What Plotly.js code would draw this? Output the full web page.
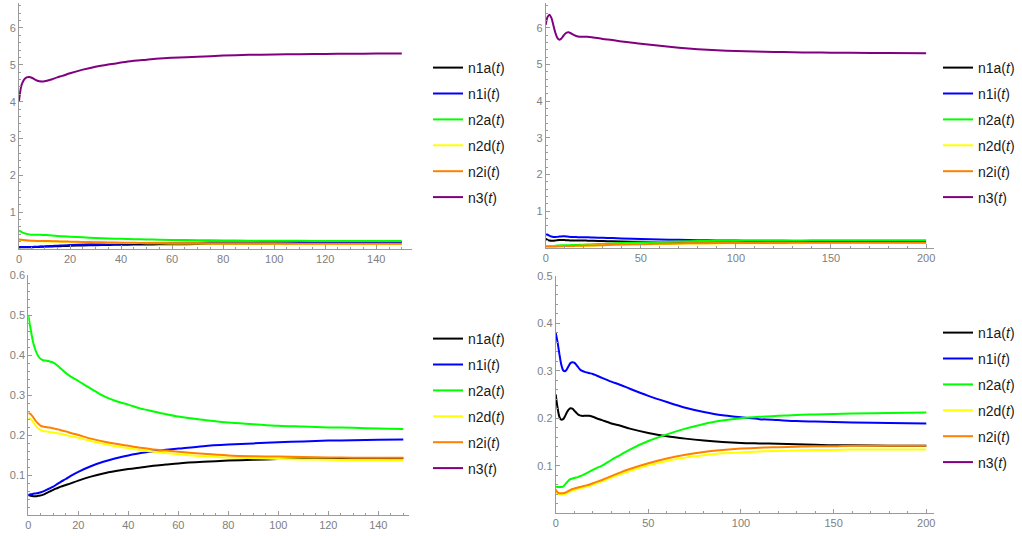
<!DOCTYPE html>
<html>
<head>
<meta charset="utf-8">
<script src="https://cdn.plot.ly/plotly-3.0.1.min.js"></script>
<style>html,body{margin:0;padding:0;background:#fff;}#plot{width:1022px;height:536px;}</style>
</head>
<body>
<div id="plot"></div>
<script>
// ---------- Data set A (left panels, t = 0..150) ----------
const tA = [0,1,2,3,4,5,6,7,8,9,10,11,12,13,15,17,20,25,30,35,40,45,50,55,60,70,80,90,100,110,120,130,140,150];
const n1aA = [0.05,0.048,0.047,0.047,0.048,0.049,0.051,0.054,0.057,0.06,0.063,0.066,0.068,0.071,0.075,0.079,0.086,0.096,0.104,0.110,0.115,0.119,0.123,0.126,0.129,0.133,0.136,0.138,0.140,0.141,0.141,0.142,0.142,0.142];
const n1iA = [0.05,0.052,0.053,0.054,0.055,0.057,0.059,0.062,0.065,0.068,0.071,0.075,0.079,0.083,0.09,0.098,0.108,0.122,0.133,0.142,0.149,0.155,0.159,0.163,0.166,0.172,0.176,0.179,0.182,0.184,0.186,0.187,0.188,0.189];
const n2aA = [0.5,0.462,0.43,0.41,0.397,0.39,0.387,0.386,0.385,0.383,0.381,0.377,0.372,0.366,0.355,0.346,0.335,0.316,0.298,0.285,0.276,0.266,0.259,0.252,0.246,0.238,0.231,0.227,0.223,0.221,0.219,0.218,0.216,0.215];
const n2dA = [0.243,0.24,0.232,0.223,0.216,0.212,0.21,0.209,0.208,0.207,0.206,0.205,0.204,0.203,0.2,0.197,0.193,0.185,0.178,0.172,0.167,0.162,0.158,0.155,0.152,0.147,0.144,0.142,0.14,0.139,0.138,0.137,0.137,0.136];
const n2iA = [0.255,0.252,0.244,0.235,0.228,0.223,0.221,0.22,0.219,0.218,0.217,0.215,0.214,0.212,0.209,0.205,0.2,0.191,0.184,0.178,0.173,0.168,0.164,0.161,0.158,0.153,0.149,0.147,0.146,0.145,0.144,0.143,0.143,0.143];
const n3A  = [4.02,4.45,4.6,4.66,4.67,4.65,4.61,4.575,4.555,4.55,4.555,4.57,4.59,4.61,4.66,4.7,4.77,4.87,4.95,5.01,5.06,5.11,5.14,5.17,5.19,5.22,5.25,5.27,5.28,5.29,5.295,5.3,5.305,5.31];

// ---------- Data set B (right panels, t = 0..200) ----------
const tB = [0,1,2,3,4,5,6,7,8,9,10,11,12,13,14,16,18,20,22,25,30,35,40,50,60,70,80,90,100,110,120,130,140,150,160,180,200];
const n1aB = [0.25,0.222,0.203,0.197,0.198,0.204,0.212,0.218,0.221,0.22,0.216,0.212,0.208,0.206,0.205,0.205,0.205,0.203,0.2,0.196,0.189,0.184,0.178,0.169,0.162,0.157,0.153,0.15,0.148,0.147,0.146,0.145,0.144,0.143,0.143,0.142,0.142];
const n1iB = [0.38,0.36,0.335,0.313,0.301,0.299,0.303,0.31,0.316,0.318,0.317,0.313,0.308,0.303,0.3,0.297,0.295,0.293,0.29,0.285,0.277,0.27,0.262,0.247,0.234,0.222,0.213,0.206,0.202,0.198,0.196,0.194,0.193,0.192,0.191,0.19,0.189];
const n2aB = [0.056,0.055,0.055,0.055,0.056,0.06,0.065,0.069,0.072,0.073,0.074,0.075,0.076,0.078,0.079,0.083,0.087,0.091,0.095,0.1,0.112,0.123,0.134,0.152,0.166,0.178,0.188,0.195,0.2,0.203,0.205,0.207,0.208,0.209,0.21,0.211,0.212];
const n2dB = [0.046,0.041,0.04,0.039,0.039,0.04,0.042,0.044,0.046,0.048,0.049,0.05,0.051,0.052,0.053,0.055,0.057,0.06,0.063,0.067,0.075,0.082,0.089,0.101,0.11,0.117,0.122,0.126,0.128,0.13,0.131,0.132,0.133,0.133,0.134,0.134,0.134];
const n2iB = [0.05,0.044,0.042,0.042,0.042,0.043,0.045,0.047,0.049,0.051,0.052,0.053,0.054,0.055,0.056,0.058,0.06,0.063,0.066,0.07,0.078,0.086,0.093,0.105,0.115,0.123,0.129,0.133,0.136,0.138,0.139,0.14,0.141,0.141,0.142,0.142,0.142];
const n3B  = [6.08,6.3,6.36,6.27,6.08,5.88,5.74,5.68,5.7,5.76,5.83,5.87,5.88,5.86,5.83,5.78,5.76,5.76,5.76,5.74,5.7,5.67,5.63,5.57,5.51,5.46,5.42,5.39,5.37,5.355,5.345,5.335,5.33,5.325,5.32,5.315,5.31];

// ---------- Labels & ticks ----------
const seriesNames = ['n1a(<i>t</i>)','n1i(<i>t</i>)','n2a(<i>t</i>)','n2d(<i>t</i>)','n2i(<i>t</i>)','n3(<i>t</i>)'];
const seriesColors = ['#000000','#0000ff','#00ff00','#ffff00','#ff8000','#800080'];
const xTicksA = [0,20,40,60,80,100,120,140];
const xTicksB = [0,50,100,150,200];
const yTicksTop = [1,2,3,4,5,6];
const yTicksBL = [0.1,0.2,0.3,0.4,0.5,0.6];
const yTicksBR = [0.1,0.2,0.3,0.4,0.5];

const setA = [n1aA,n1iA,n2aA,n2dA,n2iA,n3A];
const setB = [n1aB,n1iB,n2aB,n2dB,n2iB,n3B];

const panels = [
  {t:tA, set:setA, xa:'x',  ya:'y',  lg:'legend'},
  {t:tB, set:setB, xa:'x2', ya:'y2', lg:'legend2'},
  {t:tA, set:setA, xa:'x3', ya:'y3', lg:'legend3'},
  {t:tB, set:setB, xa:'x4', ya:'y4', lg:'legend4'}
];

const traces = [];
panels.forEach((p, pi) => {
  p.set.forEach((vals, si) => {
    traces.push({
      x: p.t, y: vals, type: 'scatter', mode: 'lines',
      name: seriesNames[si],
      xaxis: p.xa, yaxis: p.ya, legend: p.lg,
      legendgroup: 'p' + pi + 's' + si,
      line: {color: seriesColors[si], width: 2, shape: 'spline', smoothing: 0.9},
      cliponaxis: true,
      hoverinfo: 'skip'
    });
  });
});

const W = 1022, H = 536;
const px = v => v / W;
const py = v => 1 - v / H;
const axisColor = '#9a9a9a';
const tickFont = {family: 'Liberation Sans, Arial, sans-serif', size: 11, color: '#808080'};

function xaxis(d0, d1, range, ticks, minorStep, anchor) {
  return {domain: [px(d0), px(d1)], range: range, anchor: anchor,
    tickmode: 'array', tickvals: ticks, ticktext: ticks.map(String),
    ticks: 'inside', ticklen: 4, tickwidth: 1, tickcolor: axisColor,
    minor: {tickmode: 'linear', tick0: 0, dtick: minorStep, ticks: 'inside', ticklen: 2, tickcolor: axisColor, showgrid: false},
    showline: true, linecolor: axisColor, linewidth: 1,
    showgrid: false, zeroline: false, tickfont: tickFont, fixedrange: true};
}
function yaxis(d0, d1, range, ticks, minorStep, anchor) {
  return {domain: [py(d1), py(d0)], range: range, anchor: anchor,
    tickmode: 'array', tickvals: ticks, ticktext: ticks.map(String),
    ticks: 'inside', ticklen: 4, tickwidth: 1, tickcolor: axisColor,
    minor: {tickmode: 'linear', tick0: 0, dtick: minorStep, ticks: 'inside', ticklen: 2, tickcolor: axisColor, showgrid: false},
    showline: true, linecolor: axisColor, linewidth: 1,
    showgrid: false, zeroline: false, tickfont: tickFont, fixedrange: true};
}
function legend(left, top) {
  return {x: px(left), y: py(top), xanchor: 'left', yanchor: 'top',
    bgcolor: 'rgba(0,0,0,0)', borderwidth: 0,
    font: {family: 'Liberation Sans, Arial, sans-serif', size: 14, color: '#1a1a1a'},
    traceorder: 'grouped', tracegroupgap: 4.7, itemclick: false, itemdoubleclick: false};
}

const layout = {
  width: W, height: H,
  margin: {l: 0, r: 0, t: 0, b: 0},
  paper_bgcolor: '#ffffff', plot_bgcolor: '#ffffff',
  showlegend: true,
  xaxis:  xaxis(19, 412, [0, 154], xTicksA, 5, 'y'),
  yaxis:  yaxis(3.3, 249, [0, 6.67], yTicksTop, 0.2, 'x'),
  xaxis2: xaxis(545.7, 933.7, [0, 204], xTicksB, 10, 'y2'),
  yaxis2: yaxis(3.3, 248, [0, 6.67], yTicksTop, 0.2, 'x2'),
  xaxis3: xaxis(28.3, 409.3, [0, 152.4], xTicksA, 5, 'y3'),
  yaxis3: yaxis(275, 515, [0, 0.6], yTicksBL, 0.02, 'x3'),
  xaxis4: xaxis(555.7, 933.7, [0, 204], xTicksB, 10, 'y4'),
  yaxis4: yaxis(275.7, 513.2, [0, 0.5], yTicksBR, 0.02, 'x4'),
  legend:  legend(428, 52),
  legend2: legend(938, 52),
  legend3: legend(428, 323),
  legend4: legend(938, 317)
};

Plotly.newPlot('plot', traces, layout, {displayModeBar: false, staticPlot: true});
</script>
</body>
</html>
